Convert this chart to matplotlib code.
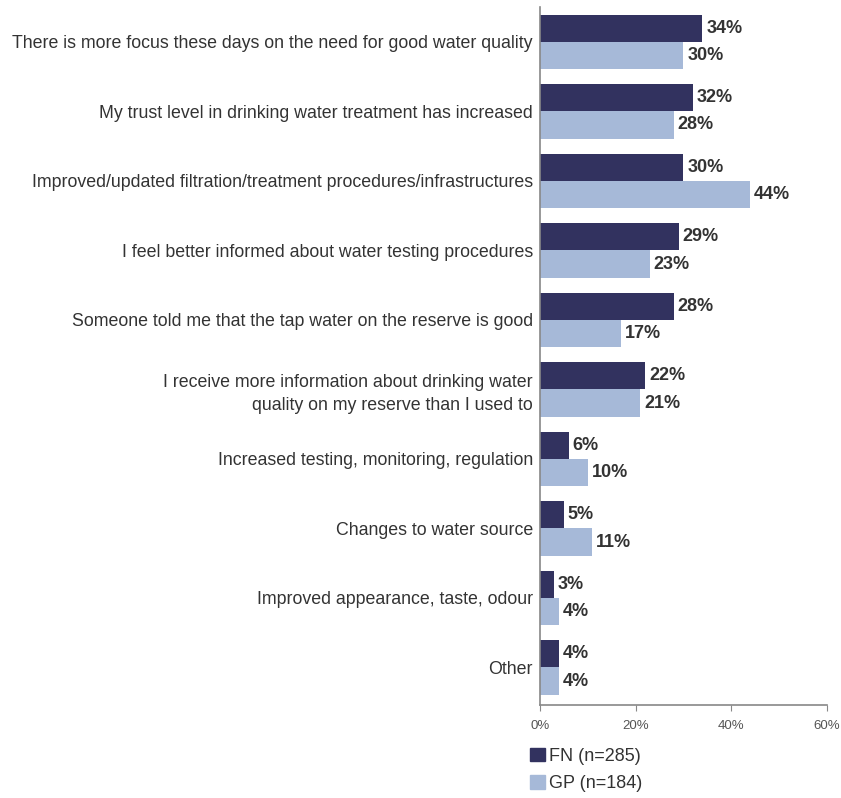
import matplotlib
matplotlib.use("Agg")
import matplotlib.pyplot as plt
import numpy as np
from matplotlib.patches import Patch

plt.rcParams['font.family'] = ['Liberation Sans', 'DejaVu Sans']

categories = [
    "There is more focus these days on the need for good water quality",
    "My trust level in drinking water treatment has increased",
    "Improved/updated filtration/treatment procedures/infrastructures",
    "I feel better informed about water testing procedures",
    "Someone told me that the tap water on the reserve is good",
    "I receive more information about drinking water\nquality on my reserve than I used to",
    "Increased testing, monitoring, regulation",
    "Changes to water source",
    "Improved appearance, taste, odour",
    "Other",
]
fn_vals = [34, 32, 30, 29, 28, 22, 6, 5, 3, 4]
gp_vals = [30, 28, 44, 23, 17, 21, 10, 11, 4, 4]
series_names = ["FN (n=285)", "GP (n=184)"]
xticks = [0, 20, 40, 60]

fn_color = '#32325f'
gp_color = '#a6b9d8'
text_color = '#333333'

fig = plt.figure(figsize=(8.41, 7.98), dpi=100)
ax = fig.add_axes([0.642, 0.1165, 0.341, 0.8745])

y = np.arange(len(categories))
h = 0.39
ax.barh(y - h / 2, fn_vals, height=h, color=fn_color)
ax.barh(y + h / 2, gp_vals, height=h, color=gp_color)

for yi, v in zip(y - h / 2, fn_vals):
    ax.text(v + 0.8, yi, f"{v}%", va='center', ha='left', fontsize=13,
            fontweight='bold', color=text_color)
for yi, v in zip(y + h / 2, gp_vals):
    ax.text(v + 0.8, yi, f"{v}%", va='center', ha='left', fontsize=13,
            fontweight='bold', color=text_color)

ax.set_ylim(len(categories) - 0.46, -0.5)
ax.set_xlim(0, 60)
ax.set_yticks(y)
ax.set_yticklabels(categories, fontsize=12.8, color=text_color, ha='right',
                   multialignment='right', linespacing=1.45)
ax.tick_params(axis='y', length=0, pad=5)
ax.set_xticks(xticks)
ax.set_xticklabels([f"{t}%" for t in xticks], fontsize=9.5, color='#555555')
ax.tick_params(axis='x', length=4, color='#888888', pad=7)

for s in ['top', 'right']:
    ax.spines[s].set_visible(False)
for s in ['left', 'bottom']:
    ax.spines[s].set_color('#888888')
    ax.spines[s].set_linewidth(1.2)

handles = [Patch(color=fn_color), Patch(color=gp_color)]
fig.legend(handles, series_names, loc='upper left',
           bbox_to_anchor=(0.620, 0.0745), bbox_transform=fig.transFigure,
           frameon=False, fontsize=13, handlelength=0.8, handleheight=0.8,
           handletextpad=0.2, labelspacing=0.55, borderpad=0,
           labelcolor=text_color)

fig.savefig("out.png", dpi=100)
